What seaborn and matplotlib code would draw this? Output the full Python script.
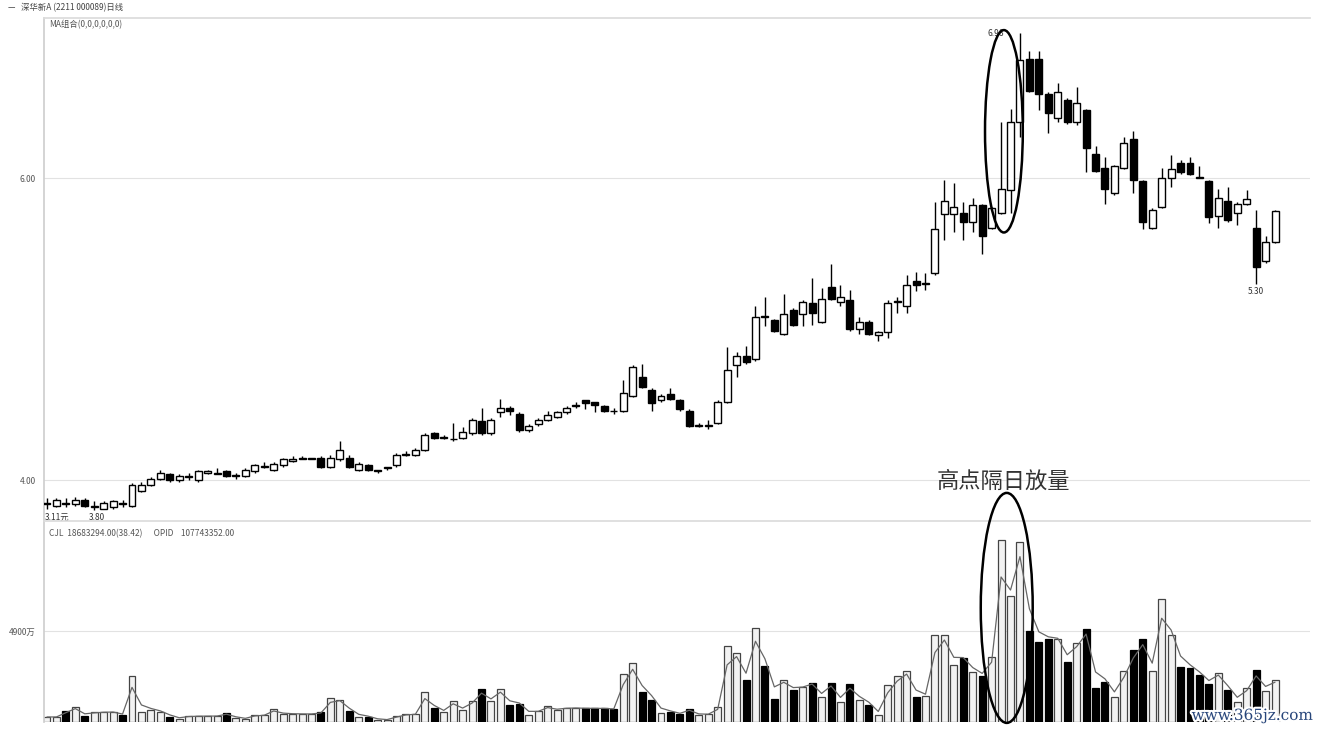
import numpy as np
import pandas as pd
import matplotlib.pyplot as plt
import matplotlib.patheffects as pe
from matplotlib.patches import Ellipse
import seaborn as sns

# 日K数据
opens = [3.84, 3.83, 3.85, 3.84, 3.87, 3.82, 3.81, 3.82, 3.85, 3.83,
         3.93, 3.97, 4.01, 4.04, 4.00, 4.02, 4.00, 4.05, 4.04, 4.06,
         4.03, 4.03, 4.06, 4.09, 4.07, 4.10, 4.13, 4.14, 4.14, 4.15,
         4.09, 4.14, 4.15, 4.07, 4.10, 4.06, 4.08, 4.10, 4.17, 4.17,
         4.20, 4.31, 4.28, 4.27, 4.28, 4.31, 4.39, 4.31, 4.45, 4.48,
         4.44, 4.33, 4.37, 4.40, 4.42, 4.45, 4.49, 4.53, 4.52, 4.49,
         4.46, 4.46, 4.56, 4.68, 4.60, 4.53, 4.57, 4.53, 4.46, 4.36,
         4.36, 4.38, 4.52, 4.76, 4.82, 4.80, 5.085, 5.06, 4.97, 5.13,
         5.10, 5.17, 5.05, 5.28, 5.18, 5.19, 5.00, 5.05, 4.96, 4.98,
         5.18, 5.15, 5.32, 5.30, 5.37, 5.76, 5.76, 5.77, 5.71, 5.82,
         5.67, 5.77, 5.92, 6.37, 6.79, 6.79, 6.56, 6.40, 6.52, 6.37,
         6.45, 6.16, 6.07, 5.90, 6.07, 6.26, 5.98, 5.67, 5.81, 6.00,
         6.10, 6.10, 6.01, 5.98, 5.75, 5.85, 5.77, 5.83, 5.67, 5.45,
         5.58]
highs = [3.88, 3.88, 3.88, 3.89, 3.88, 3.86, 3.86, 3.87, 3.87, 3.98,
         3.99, 4.02, 4.07, 4.05, 4.04, 4.05, 4.07, 4.07, 4.08, 4.07,
         4.05, 4.08, 4.11, 4.12, 4.12, 4.15, 4.16, 4.16, 4.15, 4.16,
         4.17, 4.26, 4.17, 4.12, 4.11, 4.07, 4.09, 4.18, 4.19, 4.21,
         4.31, 4.32, 4.30, 4.38, 4.35, 4.41, 4.48, 4.41, 4.54, 4.49,
         4.45, 4.37, 4.41, 4.46, 4.46, 4.49, 4.52, 4.53, 4.52, 4.50,
         4.48, 4.66, 4.76, 4.77, 4.61, 4.57, 4.61, 4.54, 4.47, 4.38,
         4.40, 4.53, 4.88, 4.85, 4.89, 5.15, 5.21, 5.07, 5.23, 5.14,
         5.19, 5.34, 5.27, 5.43, 5.29, 5.26, 5.08, 5.06, 4.99, 5.19,
         5.21, 5.36, 5.38, 5.37, 5.84, 5.99, 5.97, 5.84, 5.87, 5.83,
         5.81, 6.37, 6.46, 6.96, 6.84, 6.84, 6.57, 6.63, 6.53, 6.60,
         6.46, 6.21, 6.14, 6.09, 6.27, 6.31, 5.99, 5.80, 6.07, 6.15,
         6.12, 6.14, 6.08, 5.99, 5.93, 5.94, 5.84, 5.92, 5.79, 5.62,
         5.79]
lows = [3.81, 3.82, 3.82, 3.83, 3.82, 3.80, 3.81, 3.81, 3.82, 3.82,
        3.92, 3.96, 4.00, 3.99, 3.99, 4.00, 3.99, 4.04, 4.04, 4.02,
        4.01, 4.02, 4.05, 4.08, 4.06, 4.09, 4.12, 4.14, 4.14, 4.08,
        4.08, 4.13, 4.08, 4.06, 4.06, 4.05, 4.07, 4.09, 4.16, 4.16,
        4.19, 4.27, 4.27, 4.26, 4.27, 4.30, 4.30, 4.30, 4.42, 4.43,
        4.32, 4.32, 4.36, 4.39, 4.41, 4.44, 4.48, 4.47, 4.45, 4.45,
        4.44, 4.45, 4.55, 4.61, 4.46, 4.52, 4.53, 4.46, 4.35, 4.35,
        4.34, 4.37, 4.51, 4.68, 4.77, 4.79, 5.02, 4.98, 4.96, 5.02,
        5.02, 5.03, 5.04, 5.19, 5.15, 4.99, 4.97, 4.96, 4.92, 4.94,
        5.11, 5.11, 5.25, 5.26, 5.36, 5.59, 5.64, 5.59, 5.64, 5.50,
        5.66, 5.76, 5.77, 6.27, 6.57, 6.45, 6.30, 6.37, 6.36, 6.35,
        6.04, 6.04, 5.83, 5.89, 6.06, 5.90, 5.66, 5.66, 5.80, 5.94,
        6.03, 6.02, 6.00, 5.70, 5.67, 5.71, 5.69, 5.82, 5.30, 5.44,
        5.57]
closes = [3.85, 3.87, 3.84, 3.87, 3.83, 3.83, 3.85, 3.86, 3.84, 3.97,
          3.97, 4.01, 4.05, 4.00, 4.03, 4.025, 4.06, 4.06, 4.05, 4.03,
          4.035, 4.07, 4.10, 4.095, 4.11, 4.14, 4.14, 4.15, 4.15, 4.09,
          4.15, 4.20, 4.09, 4.11, 4.07, 4.065, 4.085, 4.17, 4.175, 4.20,
          4.30, 4.28, 4.285, 4.275, 4.32, 4.40, 4.31, 4.40, 4.48, 4.46,
          4.33, 4.36, 4.40, 4.43, 4.45, 4.48, 4.495, 4.51, 4.50, 4.46,
          4.455, 4.58, 4.75, 4.62, 4.51, 4.56, 4.54, 4.47, 4.36, 4.365,
          4.365, 4.52, 4.73, 4.82, 4.78, 5.08, 5.08, 4.99, 5.10, 5.03,
          5.18, 5.11, 5.20, 5.20, 5.21, 5.00, 5.05, 4.97, 4.98, 5.17,
          5.185, 5.29, 5.29, 5.305, 5.66, 5.85, 5.81, 5.71, 5.82, 5.62,
          5.80, 5.93, 6.37, 6.78, 6.58, 6.56, 6.43, 6.57, 6.37, 6.50,
          6.20, 6.05, 5.93, 6.08, 6.23, 5.99, 5.71, 5.79, 6.00, 6.06,
          6.04, 6.03, 6.00, 5.74, 5.87, 5.72, 5.83, 5.86, 5.41, 5.58,
          5.78]
# 成交量 (万)
volumes = [270, 270, 590, 810, 320, 510, 540, 540, 380, 2480,
           510, 650, 540, 290, 160, 320, 320, 320, 320, 460,
           220, 160, 380, 380, 690, 430, 430, 430, 430, 510,
           1300, 1190, 570, 270, 270, 110, 110, 320, 430, 430,
           1620, 730, 510, 1130, 650, 1130, 1780, 1110, 1760, 940,
           970, 380, 570, 860, 650, 760, 760, 730, 730, 730,
           690, 2570, 3190, 1590, 1190, 460, 530, 410, 700, 350,
           410, 790, 4100, 3710, 2240, 5080, 3000, 1240, 2240, 1730,
           1890, 2110, 1320, 2110, 1060, 2030, 1190, 930, 350, 2000,
           2470, 2740, 1350, 1400, 4700, 4700, 3080, 3460, 2700, 2480,
           3480, 9770, 6800, 9670, 4890, 4320, 4470, 4470, 3240, 4240,
           5020, 1820, 2160, 1320, 2740, 3890, 4470, 2740, 6620, 4680,
           2950, 2880, 2530, 2030, 2650, 1710, 1060, 1840, 2820, 1670,
           2240]

price_ticks = [4.00, 6.00]
price_tick_labels = ['4.00', '6.00']
vol_ticks = [4900]
vol_tick_labels = ['4900万']

df = pd.DataFrame({'open': opens, 'high': highs, 'low': lows,
                   'close': closes, 'vol': volumes})
df['idx'] = np.arange(len(df))
df['up'] = df['close'] >= df['open']
df['vol_ma'] = df['vol'].ewm(alpha=0.7).mean()

sns.set_theme(style='white')
plt.rcParams['font.family'] = ['Noto Sans CJK SC', 'DejaVu Sans']

fig = plt.figure(figsize=(13.2, 7.32), dpi=100)
ax = fig.add_axes([0.0333, 0.2883, 0.9591, 0.6871])
axv = fig.add_axes([0.0333, 0.0137, 0.9591, 0.2746], sharex=ax)

grid_c = '#e2e2e2'
for a in (ax, axv):
    for s in a.spines.values():
        s.set_visible(False)
    a.spines['left'].set_visible(True)
    a.spines['left'].set_color('#cfcfcf')
    a.spines['top'].set_visible(True)
    a.spines['top'].set_color('#dcdcdc')
    a.tick_params(axis='both', length=0, labelsize=6, colors='#555555', pad=6)
    a.set_xticks([])

# K线
w = 0.74
ax.vlines(df['idx'], df['low'], df['high'], color='black', lw=1, zorder=2)
body_lo = df[['open', 'close']].min(axis=1)
body_h = (df['close'] - df['open']).abs().clip(lower=0.004)
up = df[df['up']]
dn = df[~df['up']]
ax.bar(up['idx'], body_h[df['up']], bottom=body_lo[df['up']], width=w,
       facecolor='white', edgecolor='black', lw=1, zorder=3)
ax.bar(dn['idx'], body_h[~df['up']], bottom=body_lo[~df['up']], width=w,
       facecolor='black', edgecolor='black', lw=1, zorder=3)

ax.set_xlim(-0.32, 133.7)
ax.set_ylim(3.73, 7.06)
ax.set_yticks(price_ticks)
ax.set_yticklabels(price_tick_labels)
for t in price_ticks:
    ax.axhline(t, color=grid_c, lw=0.8, zorder=0)

# 最高/最低标注
ih = int(df['high'].idxmax())
ax.text(ih - 1.7, df['high'][ih], f"{df['high'][ih]:.2f}", ha='right',
        va='center', fontsize=6, color='#333333')
il = int(df['low'][120:].idxmin())
ax.text(il, df['low'][il] - 0.02, f"{df['low'][il]:.2f}", ha='center',
        va='top', fontsize=6, color='#333333')
il0 = int(df['low'][:20].idxmin())
ax.text(il0 - 0.6, df['low'][il0] - 0.015, f"{df['low'][il0]:.2f}", ha='left',
        va='top', fontsize=6, color='#333333')
ax.text(-0.2, df['low'][il0] - 0.015, '3.11元', ha='left', va='top',
        fontsize=6, color='#333333')

ax.add_patch(Ellipse((101.3, 6.31), 4.0, 1.34, fill=False, ec='black',
                     lw=1.8, zorder=5))
ax.text(101.2, 3.99, '高点隔日放量', ha='center', va='center', fontsize=16,
        color='#333333')
ax.text(0.004, 0.995, 'MA组合(0,0,0,0,0,0)', transform=ax.transAxes,
        ha='left', va='top', fontsize=6, color='#555555')

# 成交量
vu = df[df['up']]
vd = df[~df['up']]
axv.bar(vu['idx'], vu['vol'], width=w, facecolor='#f2f2f2',
        edgecolor='#444444', lw=0.9, zorder=2)
axv.bar(vd['idx'], vd['vol'], width=w, facecolor='black',
        edgecolor='black', lw=0.9, zorder=2)
sns.lineplot(data=df, x='idx', y='vol_ma', ax=axv, color='#666666', lw=0.9,
             zorder=3)
axv.set_ylim(0, 10820)
axv.set_yticks(vol_ticks)
axv.set_yticklabels(vol_tick_labels)
axv.set_xlabel('')
axv.set_ylabel('')
for t in vol_ticks:
    axv.axhline(t, color=grid_c, lw=0.8, zorder=0)
axv.text(0.004, 0.96, 'CJL  18683294.00(38.42)      OPID    107743352.00',
         transform=axv.transAxes, ha='left', va='top', fontsize=6,
         color='#555555')
axv.add_patch(Ellipse((101.6, 6140), 5.5, 12380, fill=False, ec='black',
                      lw=1.8, zorder=5, clip_on=False))

fig.text(0.006, 0.989, '—   深华新A (2211 000089)日线', ha='left', va='center',
         fontsize=6, color='#444444')
fig.text(0.994, 0.022, 'www.365jz.com', ha='right', va='center', fontsize=11,
         color='#27457a', family='DejaVu Serif',
         path_effects=[pe.withStroke(linewidth=3, foreground='white')])

fig.savefig('out.png', dpi=100)
